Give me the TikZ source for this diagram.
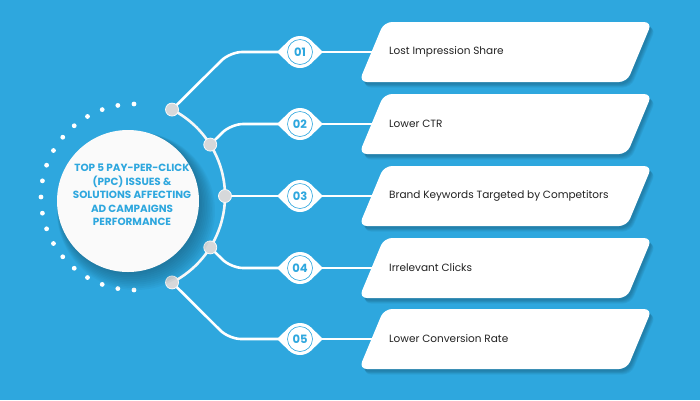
\documentclass[tikz,border=0pt]{standalone}
\usepackage{fontspec}
\setmainfont{Poppins}
\definecolor{bg}{HTML}{2EA7DE}
\definecolor{txt}{HTML}{222222}
\definecolor{nodegray}{HTML}{D6D8DA}
\pgfdeclarelayer{bottom}
\pgfdeclarelayer{lines}
\pgfsetlayers{bottom,lines,main}
\begin{document}
\begin{tikzpicture}[x=1pt,y=-1pt,
  wl/.style={white, line width=2.6pt, rounded corners=12pt},
  arcnode/.style={circle, fill=nodegray, draw=white!85!nodegray, line width=0.8pt, minimum size=13pt, inner sep=0pt},
  badge/.style={circle, fill=white, draw=bg, line width=0.6pt, minimum size=25pt, inner sep=0pt, text=bg, font=\bfseries\fontsize{11.5}{12}\selectfont},
  boxtext/.style={anchor=west, text=txt, font=\fontsize{10.5}{12}\selectfont, inner sep=0pt},
  title/.style={text=bg, align=center, font=\bfseries\fontsize{10.4}{13.4}\selectfont, inner sep=0pt}]
\begin{pgfonlayer}{bottom}
\fill[bg] (0,0) rectangle (700,400);
\end{pgfonlayer}
\useasboundingbox (0,0) rectangle (700,400);
% dotted arc
\foreach \a in {90,100,...,270}
  \fill[white] ({134+93*cos(\a)},{197+93*sin(\a)}) circle (2.4pt);
% arc nodes
\node[arcnode] (a1) at ({128+97*cos(63)},{196-97*sin(63)}) {};
\node[arcnode] (a2) at ({128+97*cos(32)},{196-97*sin(32)}) {};
\node[arcnode] (a3) at (225,196) {};
\node[arcnode] (a4) at ({128+97*cos(32)},{196+97*sin(32)}) {};
\node[arcnode] (a5) at ({128+97*cos(63)},{196+97*sin(63)}) {};
% bends and box edges
\coordinate (k1) at (230,52);
\coordinate (k2) at (231,124);
\coordinate (k4) at (231,268);
\coordinate (k5) at (229,339);
\foreach \i/\y in {1/52,2/124,3/196,4/268,5/339}{
  \coordinate (e\i) at (372,\y);
  \coordinate (bc\i) at (300,\y);
}
% circle shadow
\foreach \s in {1,...,10}
  \fill[black!60!bg, opacity=0.05] ({129+\s*0.7},{202+\s*0.9}) circle ({70+\s*0.9});
\node[circle, fill=white!96!gray, minimum size=142pt, inner sep=0pt] (main) at (128,201) {};
\node[title] (ttl) at (132,195) {TOP 5 PAY-PER-CLICK\\(PPC) ISSUES \&\\SOLUTIONS AFFECTING\\AD CAMPAIGNS\\PERFORMANCE};
% boxes
\foreach \i/\y/\t in {1/52/Lost Impression Share,2/124/Lower CTR,3/196/Brand Keywords Targeted by Competitors,4/268/Irrelevant Clicks,5/339/Lower Conversion Rate}{
  \foreach \s in {1,...,5}
    \fill[black!70!bg, opacity=0.07, rounded corners=8pt] ({359+1+\s*0.6},{\y+30+1.5+\s*0.8}) -- ({384+1+\s*0.6},{\y-30+1.5+\s*0.8}) -- ({652+1+\s*0.6},{\y-30+1.5+\s*0.8}) -- ({627+1+\s*0.6},{\y+30+1.5+\s*0.8}) -- cycle;
  \fill[white, rounded corners=8pt] (359,\y+30) -- (384,\y-30) -- (652,\y-30) -- (627,\y+30) -- cycle;
  \node[boxtext] (t\i) at (389,\y) {\t};
}
% badges
\foreach \i/\y/\n in {1/52/01,2/124/02,3/196/03,4/268/04,5/339/05}{
  \fill[white] (277,\y) -- (288.9,\y-11.5) -- (311.1,\y-11.5) -- (323,\y) -- (311.1,\y+11.5) -- (288.9,\y+11.5) -- cycle;
  \fill[white] (300,\y) circle (16pt);
  \node[badge] (b\i) at (bc\i) {\n};
}
% lines on their own layer (below nodes)
\begin{pgfonlayer}{lines}
\draw[wl] (a1.center) -- (k1) -- (b1.center);
\draw[wl] (a2.center) -- (k2) -- (b2.center);
\draw[wl] (a3.center) -- (b3.center);
\draw[wl] (a4.center) -- (k4) -- (b4.center);
\draw[wl] (a5.center) -- (k5) -- (b5.center);
\foreach \i in {1,...,5} \draw[wl] (b\i) -- (e\i);
\draw[white!94!gray, line width=2.6pt] (a5.center) arc[start angle=63, end angle=-63, radius=97];
\end{pgfonlayer}
\end{tikzpicture}
\end{document}
